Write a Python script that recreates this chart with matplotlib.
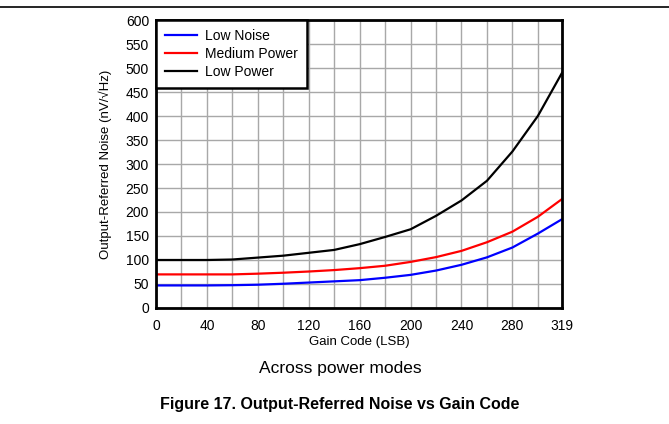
import matplotlib
matplotlib.use('Agg')
import matplotlib.pyplot as plt
from matplotlib.ticker import MultipleLocator

plt.rcParams['font.family'] = ['Liberation Sans', 'DejaVu Sans']

# values
gain = [0, 20, 40, 60, 80, 100, 120, 140, 160, 180, 200, 220, 240, 260, 280, 300, 319]
low_noise = [47, 47, 47, 47.5, 48.5, 50.5, 53, 55.5, 58, 63, 69, 78, 90, 105.5, 126, 155, 185]
medium_power = [70, 70, 70, 70, 71.5, 73.5, 76, 79, 83, 88, 96, 106, 119, 137, 159, 190, 227]
low_power = [100, 100, 100, 101, 105, 109, 115, 121, 133, 148, 164, 192, 224, 265, 326, 400, 490]

xticks = [0, 40, 80, 120, 160, 200, 240, 280, 319]

fig = plt.figure(figsize=(6.69, 4.24), dpi=100)
ax = fig.add_axes([0.2332, 0.2736, 0.6069, 0.6792])

ax.plot(gain, low_noise, color='#0000ff', lw=1.6, label='Low Noise')
ax.plot(gain, medium_power, color='#ff0000', lw=1.6, label='Medium Power')
ax.plot(gain, low_power, color='black', lw=1.6, label='Low Power')

ax.set_xlim(0, 319)
ax.set_ylim(0, 600)
ax.set_xticks(xticks)
ax.xaxis.set_minor_locator(MultipleLocator(20))
ax.yaxis.set_major_locator(MultipleLocator(50))
ax.grid(True, which='both', color='#a8a8a8', lw=1.0)
ax.set_axisbelow(True)
ax.tick_params(which='both', length=0, labelsize=10)
ax.tick_params(axis='x', pad=8)
ax.tick_params(axis='y', pad=5)
for s in ax.spines.values():
    s.set_linewidth(2)
    s.set_zorder(5)

ax.set_xlabel('Gain Code (LSB)', fontsize=9.5, labelpad=2)
ax.set_ylabel('Output-Referred Noise (nV/\u221aHz)', fontsize=9.5, labelpad=10)

leg = ax.legend(loc='upper left', borderaxespad=0, fancybox=False, fontsize=10,
                edgecolor='black', framealpha=1, handlelength=2.3, borderpad=0.65,
                labelspacing=0.28, handletextpad=0.6)
leg.get_frame().set_linewidth(1.8)

fig.add_artist(plt.Line2D([0, 1], [0.9835, 0.9835], color='black', lw=1.2))
fig.text(0.508, 0.132, 'Across power modes', ha='center', va='center', fontsize=12.5)
fig.text(0.508, 0.045, 'Figure 17. Output-Referred Noise vs Gain Code', ha='center',
         va='center', fontsize=11.5, fontweight='bold')

fig.savefig('out.png', dpi=100)
